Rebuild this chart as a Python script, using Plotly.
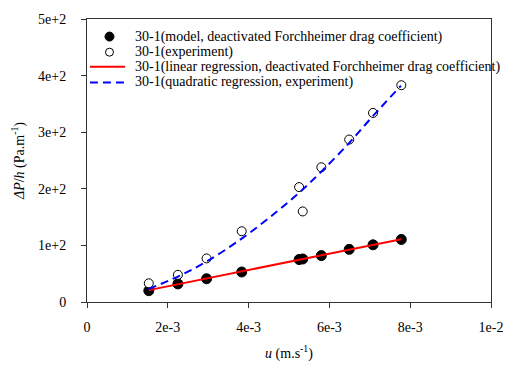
import plotly.graph_objects as go

# data
u = [1.53e-3, 2.25e-3, 2.96e-3, 3.83e-3, 5.25e-3, 5.34e-3, 5.80e-3, 6.49e-3, 7.08e-3, 7.78e-3]
model = [20, 32, 41, 53, 75, 76, 82, 93, 101, 110.5]
experiment = [33, 48, 77, 125, 203, 160, 238, 287, 334, 383]

lin_u = [1.53e-3, 7.78e-3]
lin_v = [21, 111]

quad_u = [1.525e-3, 2.25e-3, 2.95e-3, 3.83e-3, 4.67e-3, 5.28e-3, 5.81e-3, 6.49e-3, 7.07e-3, 7.77e-3]
quad_v = [23, 45, 71, 112, 158, 195, 231, 281, 328, 382]

x_ticks = [0, 2e-3, 4e-3, 6e-3, 8e-3, 1e-2]
x_labels = ["0", "2e-3", "4e-3", "6e-3", "8e-3", "1e-2"]
y_ticks = [0, 100, 200, 300, 400, 500]
y_labels = ["0", "1e+2", "2e+2", "3e+2", "4e+2", "5e+2"]

legend_names = [
    "30-1(model, deactivated Forchheimer drag coefficient)",
    "30-1(experiment)",
    "30-1(linear regression, deactivated Forchheimer drag coefficient)",
    "30-1(quadratic regression, experiment)",
]

FONT = "Liberation Serif, Times New Roman, serif"
FS = 14

# plot area in pixels (used to place the compact legend)
L, R, T, B = 87, 500, 12, 302
def px(xp):
    return (xp - L) / (R - L)
def py(yp):
    return (B - yp) / (B - T)

fig = go.Figure()
fig.add_trace(go.Scatter(
    x=u, y=model, mode="markers", name=legend_names[0],
    marker=dict(symbol="circle", size=10, color="black", line=dict(color="black", width=1)),
))
fig.add_trace(go.Scatter(
    x=u, y=experiment, mode="markers", name=legend_names[1],
    marker=dict(symbol="circle", size=9, color="white", line=dict(color="black", width=1)),
))
fig.add_trace(go.Scatter(
    x=lin_u, y=lin_v, mode="lines", name=legend_names[2],
    line=dict(color="red", width=2),
))
fig.add_trace(go.Scatter(
    x=quad_u, y=quad_v, mode="lines", name=legend_names[3],
    line=dict(color="blue", width=2, dash="8px,5px", shape="spline"),
))

# compact legend drawn with annotations and shapes (row spacing as in the reference)
leg_y = [30, 46, 61, 77]
shapes = []
annotations = []
for i, name in enumerate(legend_names):
    annotations.append(dict(
        x=px(134), y=py(leg_y[i]), xref="paper", yref="paper",
        xanchor="left", yanchor="middle", showarrow=False, text=name,
        font=dict(family=FONT, size=FS, color="black"),
    ))
shapes.append(dict(type="circle", xref="paper", yref="paper", xsizemode="pixel", ysizemode="pixel",
                   xanchor=px(110), yanchor=py(leg_y[0]), x0=-4.5, x1=4.5, y0=-4.5, y1=4.5,
                   fillcolor="black", line=dict(color="black", width=1)))
shapes.append(dict(type="circle", xref="paper", yref="paper", xsizemode="pixel", ysizemode="pixel",
                   xanchor=px(110), yanchor=py(leg_y[1]), x0=-4, x1=4, y0=-4, y1=4,
                   fillcolor="white", line=dict(color="black", width=1)))
shapes.append(dict(type="line", xref="paper", yref="paper",
                   x0=px(90), x1=px(126), y0=py(leg_y[2]), y1=py(leg_y[2]),
                   line=dict(color="red", width=2)))
shapes.append(dict(type="line", xref="paper", yref="paper",
                   x0=px(90), x1=px(126), y0=py(leg_y[3]), y1=py(leg_y[3]),
                   line=dict(color="blue", width=2, dash="8px,5px")))

fig.update_layout(
    width=515, height=372,
    margin=dict(l=L, r=515 - R, t=T, b=372 - B),
    paper_bgcolor="white", plot_bgcolor="white",
    font=dict(family=FONT, size=FS, color="black"),
    showlegend=False,
    shapes=shapes,
    annotations=annotations,
    xaxis=dict(
        range=[0, 1e-2], tickmode="array", tickvals=x_ticks, ticktext=x_labels,
        showgrid=False, zeroline=False, showline=True, linecolor="#333", linewidth=1,
        mirror=True, ticks="outside", ticklen=5, tickcolor="#333",
        ticklabelstandoff=7,
        title=dict(text="<i>u</i> (m.s<sup>-1</sup>)", font=dict(family=FONT, size=FS), standoff=14),
    ),
    yaxis=dict(
        range=[0, 500], tickmode="array", tickvals=y_ticks, ticktext=y_labels,
        showgrid=False, zeroline=False, showline=True, linecolor="#333", linewidth=1,
        mirror=True, ticks="outside", ticklen=5, tickcolor="#333",
        ticklabelstandoff=12,
        title=dict(text="<i>ΔP</i>/<i>h</i> (Pa.m<sup>-1</sup>)", font=dict(family=FONT, size=FS), standoff=10),
    ),
)

fig.write_html("out.html")
